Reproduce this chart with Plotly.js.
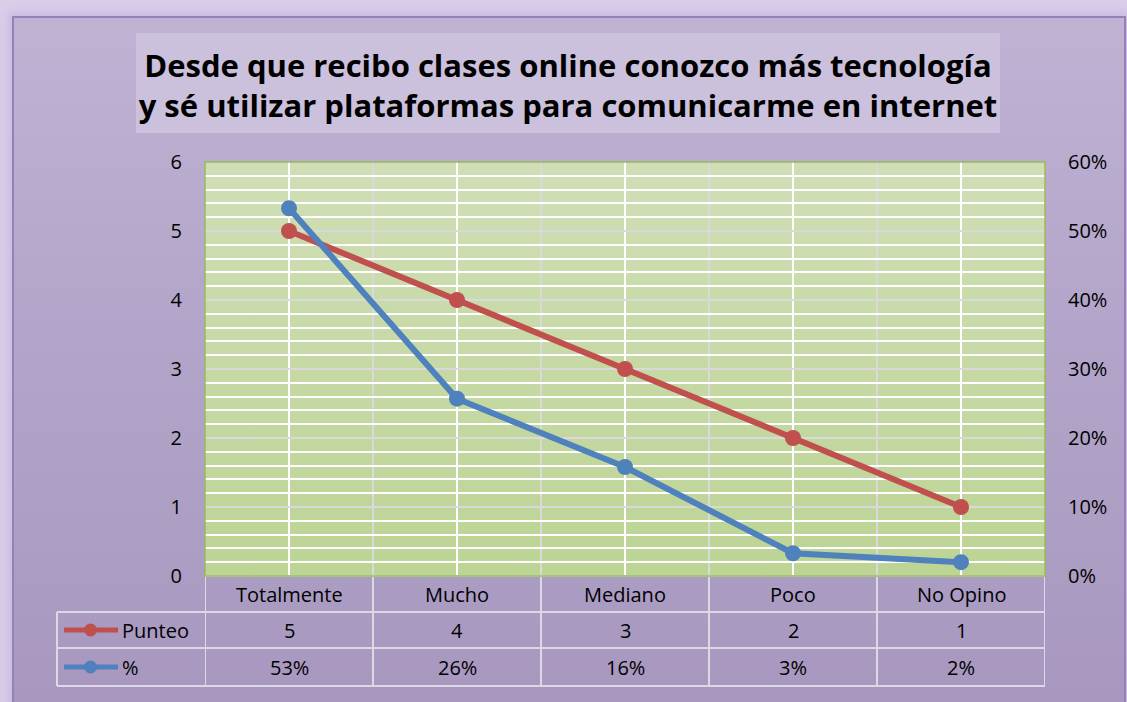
<!DOCTYPE html>
<html>
<head>
<meta charset="utf-8">
<script src="https://cdn.plot.ly/plotly-3.0.1.min.js"></script>
<style>
  html, body { margin:0; padding:0; width:1127px; height:702px; overflow:hidden; background:#d9cdea; }
  #frame { position:absolute; left:12px; top:16px; width:1110px; height:700px; border:2px solid #9580bb;
           background: linear-gradient(to bottom, #bfb2d3 0%, #b3a5c9 45%, #a797bf 100%);
           box-shadow: 0 0 8px 4px #cbbbe2; }
  #chart { position:absolute; left:0; top:0; width:1127px; height:702px; }
</style>
</head>
<body>
<div id="frame"></div>
<div id="chart"></div>
<script>
const categories = ["Totalmente", "Mucho", "Mediano", "Poco", "No Opino"];
const punteo = [5, 4, 3, 2, 1];
const porcentaje = [0.533, 0.257, 0.158, 0.033, 0.02];
const porcentajeLabels = ["53%", "26%", "16%", "3%", "2%"];
const seriesNames = ["Punteo", "%"];
const titleText = "Desde que recibo clases online conozco más tecnología<br>y sé utilizar plataformas para comunicarme en internet";

const RED = "#c0504d", BLUE = "#4f81bd";
const FONT = "Open Sans, Liberation Sans, sans-serif";
const FS = 20;

// plot area pixels: x 205..1045, y 162..576 (height 414)
const H = 414, W = 840;
const py = p => -(p - 576) / H;   // pixel y -> paper y
const px = p => (p - 205) / W;    // pixel x -> paper x

const traces = [
  { x: categories, y: punteo, name: seriesNames[0], type: "scatter", mode: "lines+markers",
    line: { color: RED, width: 6 }, marker: { color: RED, size: 16 }, yaxis: "y", cliponaxis: false },
  { x: categories, y: porcentaje, name: seriesNames[1], type: "scatter", mode: "lines+markers",
    line: { color: BLUE, width: 6 }, marker: { color: BLUE, size: 16 }, yaxis: "y2", cliponaxis: false }
];

const shapes = [];
const annotations = [];
const tblLine = { color: "#dcd8e4", width: 2 };
const rowY = [576, 612, 648, 686];

for (let i = 0; i < categories.length - 1; i++) {
  shapes.push({ type: "line", xref: "x", yref: "paper", x0: i + 0.5, x1: i + 0.5, y0: 0, y1: 1,
    line: { color: "#d9d9d9", width: 2 }, layer: "below" });
}
shapes.push({ type: "line", xref: "paper", yref: "paper", x0: 0, x1: 1, y0: py(576), y1: py(576), line: tblLine });
for (let r = 1; r < rowY.length; r++) {
  shapes.push({ type: "line", xref: "paper", yref: "paper", x0: px(57), x1: 1, y0: py(rowY[r]), y1: py(rowY[r]), line: tblLine });
}
shapes.push({ type: "line", xref: "paper", yref: "paper", x0: px(57), x1: px(57), y0: py(612), y1: py(686), line: tblLine });
for (let i = 0; i <= categories.length; i++) {
  shapes.push({ type: "line", xref: "x", yref: "paper", x0: i - 0.5, x1: i - 0.5, y0: py(576), y1: py(686), line: tblLine });
}
shapes.push({ type: "rect", xref: "paper", yref: "paper", x0: 0, x1: 1, y0: 0, y1: 1, line: { color: "#9bbb59", width: 1.5 } });
shapes.push({ type: "rect", xref: "paper", yref: "paper", x0: px(136), x1: px(1000), y0: py(33), y1: py(133),
  fillcolor: "#cbc1dc", line: { width: 0 }, layer: "below" });

const keyColors = [RED, BLUE];
const keyRows = [630, 667];
for (let s = 0; s < 2; s++) {
  shapes.push({ type: "line", xref: "paper", yref: "paper", x0: px(64), x1: px(118), y0: py(keyRows[s]), y1: py(keyRows[s]),
    line: { color: keyColors[s], width: 5 } });
  shapes.push({ type: "circle", xref: "paper", yref: "paper", x0: px(84), x1: px(97), y0: py(keyRows[s] - 6.5), y1: py(keyRows[s] + 6.5),
    fillcolor: keyColors[s], line: { width: 0 } });
  annotations.push({ xref: "paper", yref: "paper", x: px(120), y: py(keyRows[s]), xanchor: "left", yanchor: "middle",
    text: seriesNames[s], showarrow: false, font: { size: FS, color: "#000", family: FONT } });
}
const punteoLabels = punteo.map(String);
for (let i = 0; i < categories.length; i++) {
  annotations.push({ xref: "x", yref: "paper", x: categories[i], y: py(594), yanchor: "middle",
    text: categories[i], showarrow: false, font: { size: FS, color: "#000", family: FONT } });
  annotations.push({ xref: "x", yref: "paper", x: categories[i], y: py(630), yanchor: "middle",
    text: punteoLabels[i], showarrow: false, font: { size: FS, color: "#000", family: FONT } });
  annotations.push({ xref: "x", yref: "paper", x: categories[i], y: py(667), yanchor: "middle",
    text: porcentajeLabels[i], showarrow: false, font: { size: FS, color: "#000", family: FONT } });
}

const gradSvg = '<svg xmlns="http://www.w3.org/2000/svg" width="100" height="100" preserveAspectRatio="none">' +
  '<defs><linearGradient id="g" x1="0" y1="0" x2="0" y2="1"><stop offset="0" stop-color="#d0deb6"/><stop offset="1" stop-color="#bcd494"/></linearGradient></defs>' +
  '<rect width="100" height="100" fill="url(#g)"/></svg>';

const layout = {
  width: 1127, height: 702,
  margin: { l: 205, r: 82, t: 162, b: 126 },
  paper_bgcolor: "rgba(0,0,0,0)",
  plot_bgcolor: "rgba(0,0,0,0)",
  showlegend: false,
  font: { family: FONT, size: FS, color: "#000" },
  title: { text: titleText, x: 568 / 1127, xref: "container", xanchor: "center", y: 1 - 77 / 702, yref: "container", yanchor: "middle",
    font: { family: FONT, size: 31, color: "#000", weight: "bold" } },
  xaxis: { type: "category", range: [-0.5, 4.5], showticklabels: false, showgrid: true, gridcolor: "#ffffff", gridwidth: 2,
    zeroline: false, showline: false, fixedrange: true },
  yaxis: { range: [0, 6], dtick: 1, tick0: 0, showgrid: true, gridcolor: "#d9d9d9", gridwidth: 2, zeroline: false,
    minor: { dtick: 0.2, tick0: 0, showgrid: true, gridcolor: "#ffffff", gridwidth: 2 },
    ticks: "", ticklabelstandoff: 22, tickfont: { size: FS, family: FONT, color: "#000" } },
  yaxis2: { range: [0, 0.6], dtick: 0.1, tick0: 0, tickformat: ".0%", overlaying: "y", side: "right", showgrid: false,
    zeroline: false, ticks: "", ticklabelstandoff: 22, tickfont: { size: FS, family: FONT, color: "#000" } },
  shapes: shapes,
  annotations: annotations,
  images: [{ source: "data:image/svg+xml;charset=utf-8," + encodeURIComponent(gradSvg), xref: "paper", yref: "paper",
    x: 0, y: 1, sizex: 1, sizey: 1, sizing: "stretch", xanchor: "left", yanchor: "top", layer: "below" }]
};

Plotly.newPlot("chart", traces, layout, { displayModeBar: false, staticPlot: true });
</script>
</body>
</html>
